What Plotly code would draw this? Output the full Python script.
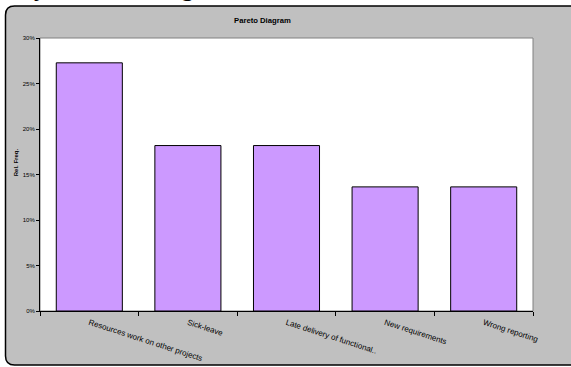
import plotly.graph_objects as go

categories = ["Resources work on other projects", "Sick-leave",
              "Late delivery of functional..", "New requirements", "Wrong reporting"]
rel_freq = [0.2727, 0.1818, 0.1818, 0.1364, 0.1364]
y_ticks = [0, 0.05, 0.10, 0.15, 0.20, 0.25, 0.30]

W, H = 571, 367
L, R, T, B = 40, 533, 37.5, 311


def px(x):
    return (x - L) / (R - L)


def py(y):
    return (B - y) / (B - T)


# rounded gray chart-area box (right side extends beyond the window)
x0, y0, x1, y1, r = 5.5, 5.5, 590, 365, 9
path = (f"M {px(x0 + r)},{py(y0)} L {px(x1 - r)},{py(y0)} "
        f"Q {px(x1)},{py(y0)} {px(x1)},{py(y0 + r)} "
        f"L {px(x1)},{py(y1 - r)} Q {px(x1)},{py(y1)} {px(x1 - r)},{py(y1)} "
        f"L {px(x0 + r)},{py(y1)} Q {px(x0)},{py(y1)} {px(x0)},{py(y1 - r)} "
        f"L {px(x0)},{py(y0 + r)} Q {px(x0)},{py(y0)} {px(x0 + r)},{py(y0)} Z")

fig = go.Figure()
fig.add_trace(go.Bar(
    x=categories, y=rel_freq,
    marker=dict(color="#CC99FF", line=dict(color="#000000", width=1)),
    width=0.67,
))

fig.update_layout(
    width=W, height=H,
    margin=dict(l=L, r=W - R, t=T, b=H - B, pad=0, autoexpand=False),
    paper_bgcolor="white",
    plot_bgcolor="rgba(0,0,0,0)",
    showlegend=False,
    font=dict(family="Liberation Sans, Arial, sans-serif", color="#000000"),
    shapes=[
        dict(type="path", xref="paper", yref="paper", path=path,
             fillcolor="#C0C0C0", line=dict(color="#000000", width=1.5), layer="below"),
        dict(type="rect", xref="paper", yref="paper", x0=0, x1=1, y0=0, y1=1,
             fillcolor="white", line=dict(color="#808080", width=1), layer="below"),
    ],
    annotations=[
        dict(text="<b>Pareto Diagram</b>", xref="paper", yref="paper",
             x=px(262), y=py(20), showarrow=False, font=dict(size=7.7),
             xanchor="center", yanchor="middle"),
        dict(text="<b>Rel. Freq.</b>", xref="paper", yref="paper",
             x=px(16), y=py(162), showarrow=False, font=dict(size=6),
             textangle=-90, xanchor="center", yanchor="middle"),
        dict(text="y", xref="paper", yref="paper", x=px(40), y=py(3),
             showarrow=False, font=dict(family="Liberation Serif", size=26),
             xanchor="center", yanchor="bottom"),
        dict(text="g", xref="paper", yref="paper", x=px(187), y=py(3),
             showarrow=False, font=dict(family="Liberation Serif", size=26),
             xanchor="center", yanchor="bottom"),
    ],
    bargap=0.33,
)

fig.update_xaxes(
    showline=True, linecolor="#000000", linewidth=1,
    ticks="outside", ticklen=4, tickcolor="#000000", tickson="boundaries",
    tickangle=18, tickfont=dict(size=8, color="#000000"),
    ticklabelstandoff=3, automargin=False,
    showgrid=False, zeroline=False, fixedrange=True,
)
fig.update_yaxes(
    range=[0, 0.30], tickvals=y_ticks, tickformat=".0%",
    showline=True, linecolor="#000000", linewidth=1,
    ticks="outside", ticklen=3, tickcolor="#000000",
    tickfont=dict(size=6, color="#000000"), automargin=False,
    showgrid=False, zeroline=False, fixedrange=True,
)

fig.write_html("out.html", config={"displayModeBar": False})
